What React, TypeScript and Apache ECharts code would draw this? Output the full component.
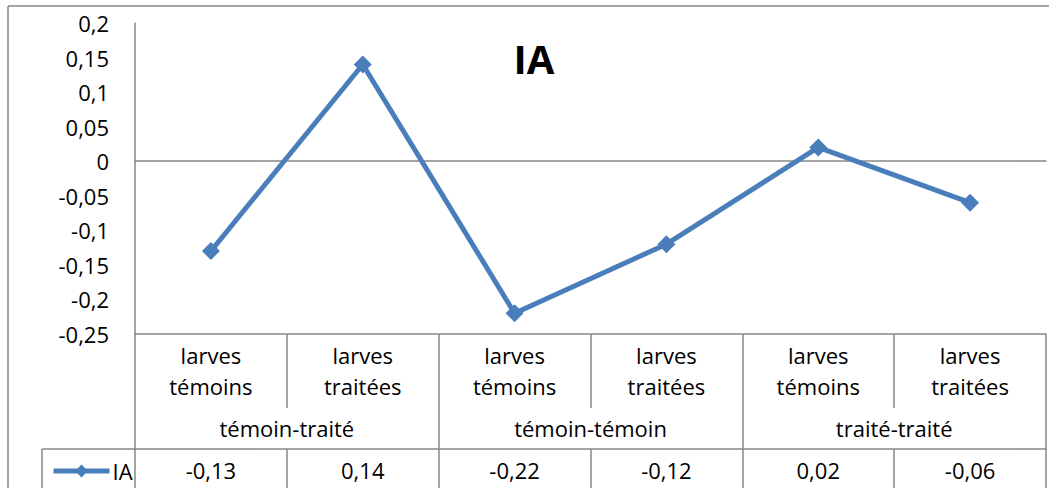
import React, { useEffect, useRef } from "react";
import * as echarts from "echarts";

const categories = ["larves\ntémoins", "larves\ntraitées", "larves\ntémoins", "larves\ntraitées", "larves\ntémoins", "larves\ntraitées"];
const groups = ["témoin-traité", "témoin-témoin", "traité-traité"];
const iaValues = [-0.13, 0.14, -0.22, -0.12, 0.02, -0.06];
const seriesName = "IA";
const yMin = -0.25;
const yMax = 0.2;
const yStep = 0.05;

const FONT = "Open Sans";
const GRAY = "#878787";
const BLUE = "#4A7EBB";

const fmt = (v: number) => String(Math.round(v * 100) / 100).replace(".", ",");

export default function App() {
  const ref = useRef<HTMLDivElement>(null);
  useEffect(() => {
    if (!ref.current) return;
    const chart = echarts.init(ref.current, undefined, { renderer: "svg" });
    const L = 135, T = 23, R = 1046, B = 334;
    chart.setOption({
      animation: false,
      textStyle: { fontFamily: FONT },
      grid: { left: L, top: T, width: R - L, height: B - T, containLabel: false },
      legend: {
        data: [seriesName],
        left: 46,
        top: 455,
        itemWidth: 56,
        itemHeight: 16,
        lineStyle: { width: 5 },
        textStyle: { fontFamily: FONT, fontSize: 22, color: "#000", padding: [0, 0, 0, -2] },
      },
      xAxis: [
        {
          type: "category",
          data: categories,
          position: "bottom",
          axisLine: { show: true, onZero: true, lineStyle: { color: GRAY, width: 1.5 } },
          axisTick: { show: false },
          axisLabel: { show: false },
          splitLine: { show: false },
        },
        {
          type: "category",
          data: categories,
          position: "bottom",
          offset: 0,
          axisLine: { show: true, onZero: false, lineStyle: { color: GRAY, width: 1.5 } },
          axisTick: { show: true, interval: 0, length: 74, lineStyle: { color: GRAY, width: 1.5 } },
          axisLabel: { show: true, interval: 0, fontFamily: FONT, fontSize: 22, lineHeight: 31, margin: 5, color: "#000" },
          splitLine: { show: false },
        },
        {
          type: "category",
          data: groups,
          position: "bottom",
          offset: 74,
          axisLine: { show: false, onZero: false },
          axisTick: { show: true, interval: 0, length: 41, lineStyle: { color: GRAY, width: 1.5 } },
          axisLabel: { show: true, interval: 0, fontFamily: FONT, fontSize: 22, lineHeight: 26, margin: 7, color: "#000" },
          splitLine: { show: false },
        },
        {
          type: "category",
          data: iaValues.map(fmt),
          position: "bottom",
          offset: 115,
          axisLine: { show: true, onZero: false, lineStyle: { color: GRAY, width: 1.5 } },
          axisTick: { show: true, interval: 0, length: 45, lineStyle: { color: GRAY, width: 1.5 } },
          axisLabel: { show: true, interval: 0, fontFamily: FONT, fontSize: 22, lineHeight: 26, margin: 8, color: "#000" },
          splitLine: { show: false },
        },
      ],
      yAxis: {
        type: "value",
        min: yMin,
        max: yMax,
        interval: yStep,
        axisLine: { show: true, onZero: false, lineStyle: { color: GRAY, width: 1.5 } },
        axisTick: { show: false },
        splitLine: { show: false },
        axisLabel: { fontFamily: FONT, fontSize: 22, color: "#000", margin: 26, formatter: fmt },
      },
      series: [
        {
          name: seriesName,
          type: "line",
          xAxisIndex: 0,
          data: iaValues,
          symbol: "diamond",
          symbolSize: 18,
          lineStyle: { color: BLUE, width: 5 },
          itemStyle: { color: BLUE },
        },
      ],
      graphic: [
        { type: "line", shape: { x1: 8, y1: 6, x2: 8, y2: 488 }, style: { stroke: GRAY, lineWidth: 1.5 } },
        { type: "line", shape: { x1: 8, y1: 6, x2: 1049, y2: 6 }, style: { stroke: GRAY, lineWidth: 1.5 } },
        { type: "line", shape: { x1: 42, y1: 449, x2: L, y2: 449 }, style: { stroke: GRAY, lineWidth: 1.5 } },
        { type: "line", shape: { x1: 42, y1: 449, x2: 42, y2: 488 }, style: { stroke: GRAY, lineWidth: 1.5 } },
        {
          type: "text",
          x: 534,
          y: 58,
          style: { text: "IA", fontFamily: FONT, fontWeight: "bold", fontSize: 40, fill: "#000", align: "center", verticalAlign: "middle" },
        },
      ],
    });
    return () => chart.dispose();
  }, []);
  return <div ref={ref} style={{ position: "absolute", left: 0, top: 0, width: 1049, height: 488, background: "#fff" }} />;
}
